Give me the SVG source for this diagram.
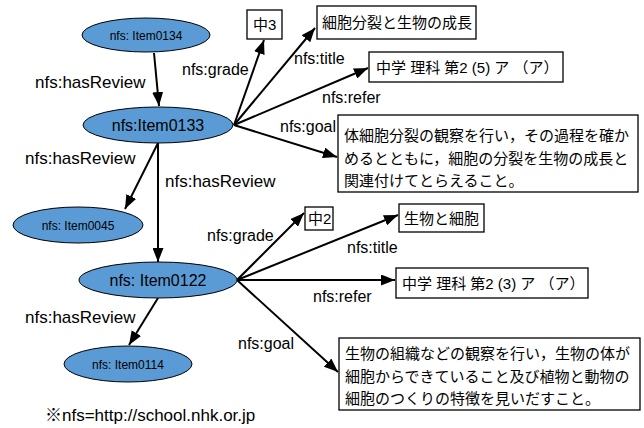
<svg xmlns="http://www.w3.org/2000/svg" width="644" height="428" viewBox="0 0 644 428">
<defs>
<marker id="ah" markerWidth="14" markerHeight="11" refX="14" refY="5.5" orient="auto" markerUnits="userSpaceOnUse">
<path d="M0,0 L14,5.5 L0,11 z" fill="#000"/>
</marker>
<style>
.n{fill:#5B9BD5;stroke:#000;stroke-width:1}
.b{fill:#fff;stroke:#000;stroke-width:1.3}
.e{stroke:#000;stroke-width:2;fill:none;marker-end:url(#ah)}
text{font-family:"Liberation Sans","Noto Sans CJK JP",sans-serif;fill:#000}
.s{font-size:12px;text-anchor:middle}
.m{font-size:16px;text-anchor:middle}
.l{font-size:16px}
.h{font-size:17px}
.j{font-size:15px}
</style>
</defs>
<rect width="644" height="428" fill="#fff"/>
<g id="connectors">
<line class="e" x1="154" y1="53" x2="159" y2="106"/>
<line class="e" x1="158" y1="143" x2="125" y2="209"/>
<line class="e" x1="158" y1="143" x2="158" y2="262"/>
<line class="e" x1="158" y1="298" x2="129" y2="345"/>
<line class="e" x1="234" y1="125" x2="264" y2="40"/>
<line class="e" x1="234" y1="125" x2="315" y2="28"/>
<line class="e" x1="234" y1="125" x2="368" y2="68"/>
<line class="e" x1="234" y1="125" x2="337" y2="157"/>
<line class="e" x1="237" y1="280" x2="304" y2="213"/>
<line class="e" x1="237" y1="280" x2="398" y2="215"/>
<line class="e" x1="237" y1="280" x2="395" y2="280"/>
<line class="e" x1="237" y1="280" x2="338" y2="372"/>
<text class="h" x="35" y="88">nfs:hasReview</text>
<text class="h" x="25" y="164">nfs:hasReview</text>
<text class="h" x="165" y="187">nfs:hasReview</text>
<text class="h" x="25" y="323">nfs:hasReview</text>
<text class="l" x="182" y="75">nfs:grade</text>
<text class="l" x="294" y="64">nfs:title</text>
<text class="l" x="322" y="103">nfs:refer</text>
<text class="l" x="280" y="132">nfs:goal</text>
<text class="l" x="207" y="241">nfs:grade</text>
<text class="l" x="347" y="253">nfs:title</text>
<text class="l" x="313" y="302">nfs:refer</text>
<text class="l" x="238" y="349">nfs:goal</text>
</g>
<g id="item0134"><ellipse class="n" cx="146" cy="35" rx="64" ry="17"/><text class="s" x="146" y="40">nfs: Item0134</text></g>
<g id="item0133"><ellipse class="n" cx="158" cy="125" rx="75" ry="18"/><text class="m" x="158" y="131">nfs:Item0133</text></g>
<g id="item0045"><ellipse class="n" cx="78" cy="225" rx="65" ry="18"/><text class="s" x="78" y="230">nfs: Item0045</text></g>
<g id="item0122"><ellipse class="n" cx="158" cy="280" rx="79" ry="18"/><text class="m" x="158" y="286">nfs: Item0122</text></g>
<g id="item0114"><ellipse class="n" cx="128" cy="364" rx="64" ry="18"/><text class="s" x="128" y="369">nfs: Item0114</text></g>
<g id="grade3"><rect class="b" x="247" y="10" width="35" height="29"/><text class="j" x="253" y="30">中3</text></g>
<g id="title0133"><rect class="b" x="317" y="6" width="159" height="33"/><text class="j" x="322" y="28">細胞分裂と生物の成長</text></g>
<g id="refer0133"><rect class="b" x="369" y="52" width="194" height="30"/><text class="j" x="376" y="73">中学 理科 第2 (5) ア （ア）</text></g>
<g id="goal0133"><rect class="b" x="338" y="115" width="300" height="77"/>
<text class="j" x="344" y="141">体細胞分裂の観察を行い，その過程を確か</text>
<text class="j" x="344" y="164">めるとともに，細胞の分裂を生物の成長と</text>
<text class="j" x="344" y="186">関連付けてとらえること。</text></g>
<g id="grade2"><rect class="b" x="305" y="207" width="28" height="23"/><text class="j" x="308" y="224">中2</text></g>
<g id="title0122"><rect class="b" x="399" y="204" width="85" height="28"/><text class="j" x="404" y="224">生物と細胞</text></g>
<g id="refer0122"><rect class="b" x="396" y="268" width="192" height="30"/><text class="j" x="402" y="289">中学 理科 第2 (3) ア （ア）</text></g>
<g id="goal0122"><rect class="b" x="339" y="338" width="301" height="72"/>
<text class="j" x="345" y="359">生物の組織などの観察を行い，生物の体が</text>
<text class="j" x="345" y="382">細胞からできていること及び植物と動物の</text>
<text class="j" x="345" y="404">細胞のつくりの特徴を見いだすこと。</text></g>
<text class="h" x="45" y="421">※nfs=http://school.nhk.or.jp</text>
</svg>
